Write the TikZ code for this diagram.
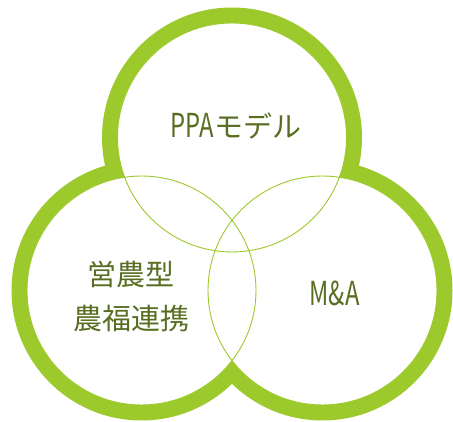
\documentclass[tikz,border=0pt]{standalone}
\usepackage{fontspec}
\setmainfont{Noto Sans CJK JP}
\newfontfamily\jpfont{Noto Sans CJK JP}
\newfontfamily\latinfont[FakeStretch=0.72]{Noto Sans CJK JP}
\definecolor{ringgreen}{HTML}{9CC92B}
\definecolor{txtgreen}{HTML}{5A6E23}
\tikzset{
  thickring/.style={draw=ringgreen, line width=15.5pt},
  innerfill/.style={fill=white},
  thinring/.style={draw=ringgreen, line width=0.9pt},
  lbl/.style={text=txtgreen, inner sep=0pt, align=center, font=\jpfont\fontsize{29}{44}\selectfont},
}
\newcommand{\lat}[1]{{\latinfont\fontsize{33}{40}\selectfont #1}}
\begin{document}
\begin{tikzpicture}[x=1pt,y=1pt]
\useasboundingbox (0,0) rectangle (453,422);
\coordinate (ct) at (232,284.5);
\coordinate (cl) at (141.5,131.5);
\coordinate (cr) at (322.5,131.5);
\foreach \c in {ct,cl,cr} \path[thickring] (\c) circle[radius=122.25];
\foreach \c in {ct,cl,cr} \path[innerfill] (\c) circle[radius=114.5];
\foreach \c in {ct,cl,cr} \path[thinring] (\c) circle[radius=114.5];
\node[lbl] (ppa) at (236,296) {\lat{PPA}モデル};
\node[lbl] (farm) at (131,125) {営農型\\農福連携};
\node[lbl] (ma) at (334.5,128.5) {\lat{M\&A}};
\end{tikzpicture}
\end{document}
